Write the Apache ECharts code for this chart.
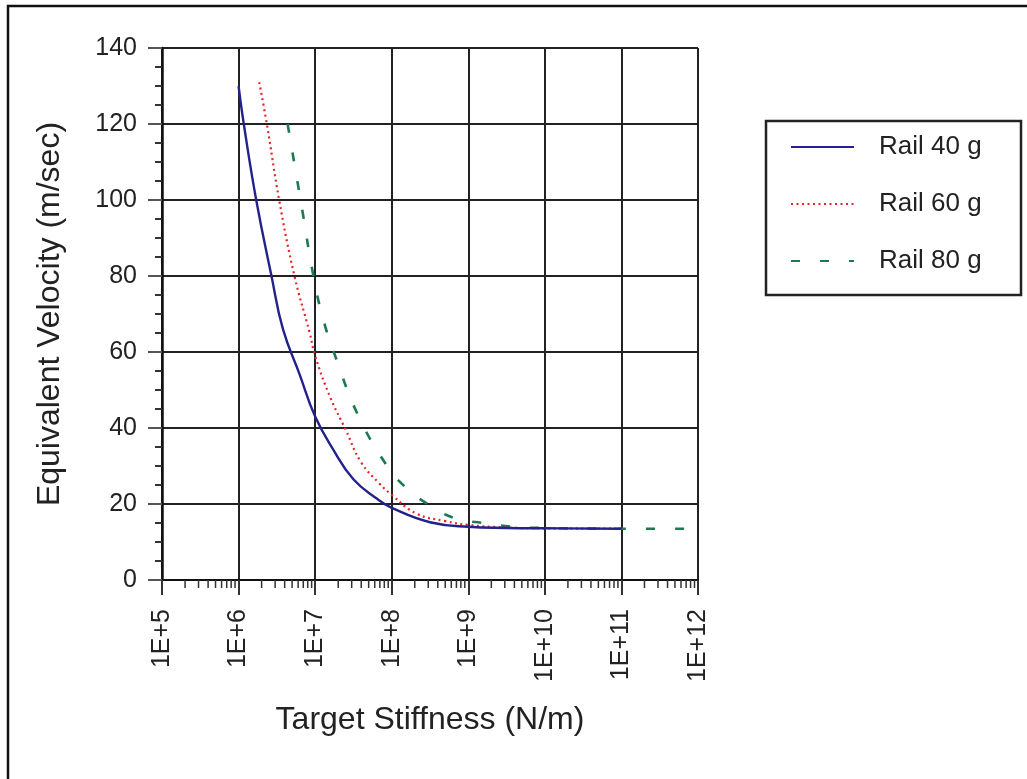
<!DOCTYPE html>
<html>
<head>
<meta charset="utf-8">
<script src="https://cdn.jsdelivr.net/npm/echarts@6/dist/echarts.min.js"></script>
<style>
html,body{margin:0;padding:0;background:#fff;}
#chart{width:1027px;height:779px;}
</style>
</head>
<body>
<div id="chart"></div>
<script>
// ---- data (stiffness in N/m, velocity in m/sec) ----
var rail40Stiffness = [1.0e6, 1.17e6, 1.7e6, 2.69e6, 3.8e6, 6.3e6, 1.0e7, 1.7e7, 3.16e7, 6.3e7, 1.0e8, 3.16e8, 1.0e9, 3.16e9, 1.0e10, 1.0e11];
var rail40Velocity  = [130, 120, 100, 80, 66, 54, 43, 34.5, 26.5, 21.5, 19, 15.2, 14, 13.7, 13.6, 13.5];

var rail60Stiffness = [1.86e6, 2.34e6, 3.39e6, 5.37e6, 8.5e6, 1.0e7, 1.58e7, 2.51e7, 3.98e7, 6.9e7, 1.0e8, 2.09e8, 5.0e8, 1.0e9, 3.16e9, 1.0e10, 1.0e11];
var rail60Velocity  = [131, 120, 100, 80, 65, 59, 48, 39.5, 31, 25.4, 22.4, 17.5, 15.5, 14.5, 13.8, 13.6, 13.5];

var rail80Stiffness = [4.37e6, 6.9e6, 9.3e6, 1.26e7, 1.9e7, 3.63e7, 8.5e7, 1.48e8, 3.1e8, 6.6e8, 1.7e9, 4.0e9, 1.0e10, 1.0e11, 1.0e12];
var rail80Velocity  = [120, 96.5, 81, 69, 58, 43.4, 30.3, 24.6, 19.7, 16.3, 14.9, 14, 13.7, 13.5, 13.5];

var seriesNames = ['Rail 40 g', 'Rail 60 g', 'Rail 80 g'];
var xMajorTicks = [1e5, 1e6, 1e7, 1e8, 1e9, 1e10, 1e11, 1e12];
var xMinorMultipliers = [2, 3, 4, 5, 6, 7, 8, 9];
var yTicks = [0, 20, 40, 60, 80, 100, 120, 140];

function pairs(xs, ys) { return xs.map(function (x, i) { return [x, ys[i]]; }); }

var minorTickData = [];
for (var d = 0; d < xMajorTicks.length - 1; d++) {
  for (var m = 0; m < xMinorMultipliers.length; m++) {
    minorTickData.push([xMajorTicks[d] * xMinorMultipliers[m], 0]);
  }
}

var FONT = "'Liberation Sans', Arial, sans-serif";
var chart = echarts.init(document.getElementById('chart'), null, { renderer: 'canvas' });

var option = {
  backgroundColor: '#ffffff',
  animation: false,
  grid: { left: 162, right: 329, top: 48, bottom: 199, containLabel: false },
  xAxis: {
    type: 'log',
    logBase: 10,
    min: xMajorTicks[0],
    max: xMajorTicks[xMajorTicks.length - 1],
    name: 'Target Stiffness (N/m)',
    nameLocation: 'middle',
    nameGap: 124,
    nameTextStyle: { fontFamily: FONT, fontSize: 32, color: '#222' },
    axisLine: { show: true, onZero: false, lineStyle: { color: '#111', width: 2 } },
    axisTick: { show: true, length: 15, lineStyle: { color: '#333', width: 2 } },
    minorTick: { show: false },
    axisLabel: {
      rotate: 90, margin: 29, fontFamily: FONT, fontSize: 25, color: '#222',
      formatter: function (v) { return '1E+' + Math.round(Math.log10(v)); }
    },
    splitLine: { show: true, lineStyle: { color: '#222', width: 2 } }
  },
  yAxis: {
    type: 'value',
    min: yTicks[0],
    max: yTicks[yTicks.length - 1],
    interval: 20,
    name: 'Equivalent Velocity (m/sec)',
    nameLocation: 'middle',
    nameGap: 96,
    nameTextStyle: { fontFamily: FONT, fontSize: 32, color: '#222' },
    axisLine: { show: true, lineStyle: { color: '#111', width: 2.5 } },
    axisTick: { show: true, length: 14, lineStyle: { color: '#555', width: 2 } },
    minorTick: { show: true, splitNumber: 4, length: 7, lineStyle: { color: '#333', width: 2 } },
    axisLabel: { margin: 25, fontFamily: FONT, fontSize: 25, color: '#222' },
    splitLine: { show: true, lineStyle: { color: '#222', width: 2 } }
  },
  legend: {
    data: seriesNames,
    orient: 'vertical',
    left: 766,
    top: 121,
    padding: [11, 10, 10, 24],
    itemWidth: 63,
    itemHeight: 14,
    itemGap: 27,
    itemStyle: { opacity: 0 },
    textStyle: { fontFamily: FONT, fontSize: 26, color: '#222', lineHeight: 30, padding: [0, 0, 0, 20] },
    selectedMode: false
  },
  graphic: [
    { type: 'rect', silent: true, z: 100, shape: { x: 8, y: 6, width: 1100, height: 900 },
      style: { fill: 'none', stroke: '#111', lineWidth: 2.5 } },
    { type: 'rect', silent: true, z: 100, shape: { x: 766, y: 121, width: 255, height: 174 },
      style: { fill: 'none', stroke: '#222', lineWidth: 2.5 } }
  ],
  series: [
    {
      name: seriesNames[0], type: 'line', data: pairs(rail40Stiffness, rail40Velocity),
      symbol: 'none', smooth: 0.45, z: 5,
      lineStyle: { color: '#22228a', width: 2.4, type: 'solid' },
      itemStyle: { color: '#22228a' }
    },
    {
      name: seriesNames[1], type: 'line', data: pairs(rail60Stiffness, rail60Velocity),
      symbol: 'none', smooth: 0.45, z: 4,
      lineStyle: { color: '#e3262c', width: 2.2, type: [2, 3.5] },
      itemStyle: { color: '#e3262c' }
    },
    {
      name: seriesNames[2], type: 'line', data: pairs(rail80Stiffness, rail80Velocity),
      symbol: 'none', smooth: 0.45, z: 3,
      lineStyle: { color: '#1b7a4e', width: 2.6, type: [9, 20] },
      itemStyle: { color: '#1b7a4e' }
    },
    {
      name: 'xMinorTicks', type: 'custom', data: minorTickData, clip: false, silent: true, z: 6,
      encode: { x: 0, y: 1 },
      renderItem: function (params, api) {
        var p = api.coord([api.value(0), api.value(1)]);
        return {
          type: 'line',
          shape: { x1: p[0], y1: p[1], x2: p[0], y2: p[1] + 8 },
          style: { stroke: '#333', lineWidth: 1.5 }
        };
      }
    }
  ]
};
chart.setOption(option);
</script>
</body>
</html>
